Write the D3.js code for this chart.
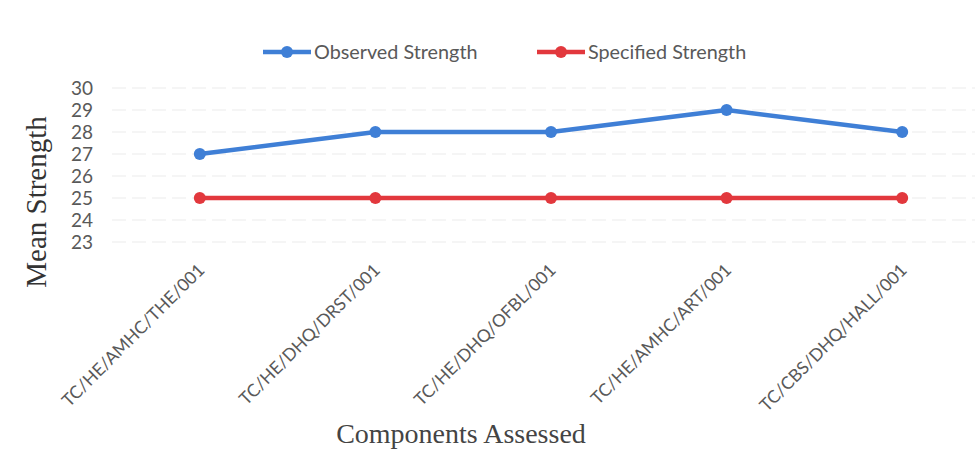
<!DOCTYPE html>
<html>
<head>
<meta charset="utf-8">
<script src="https://cdn.jsdelivr.net/npm/d3@7"></script>
<style>
  html, body { margin: 0; padding: 0; background: #fff; }
  svg { display: block; }
</style>
</head>
<body>
<svg id="chart" width="979" height="471"></svg>
<script>
// Components tested and their mean strengths
const components = [
  "TC/HE/AMHC/THE/001",
  "TC/HE/DHQ/DRST/001",
  "TC/HE/DHQ/OFBL/001",
  "TC/HE/AMHC/ART/001",
  "TC/CBS/DHQ/HALL/001"
];
const observedStrength = [27, 28, 28, 29, 28];
const specifiedStrength = [25, 25, 25, 25, 25];
const yTicks = [23, 24, 25, 26, 27, 28, 29, 30];
const seriesNames = ["Observed Strength", "Specified Strength"];
const seriesColors = ["#3f7fd6", "#e2383d"];

const svg = d3.select("#chart");
const labelFont = "Lato, 'Open Sans', sans-serif";
const serif = "'Liberation Serif', 'DejaVu Serif', serif";

const x = d3.scalePoint().domain(components).range([112, 990]).padding(0.5);
const y = d3.scaleLinear().domain([23, 30]).range([242, 88]);

// light gridlines
svg.append("g")
  .selectAll("line")
  .data(yTicks)
  .join("line")
  .attr("x1", 112).attr("x2", 975)
  .attr("y1", d => y(d)).attr("y2", d => y(d))
  .attr("stroke", "#ebebeb")
  .attr("stroke-width", 1)
  .attr("stroke-dasharray", "14,6");

// y axis labels
const yAxis = svg.append("g")
  .attr("transform", "translate(100,0)")
  .call(d3.axisLeft(y).tickValues(yTicks).tickFormat(d3.format("d")).tickSize(0).tickPadding(7));
yAxis.select(".domain").remove();
yAxis.selectAll("text")
  .attr("font-family", labelFont)
  .attr("font-size", 19)
  .attr("fill", "#595959");

// x axis labels, rotated
const xAxis = svg.append("g")
  .attr("transform", "translate(0,267)")
  .call(d3.axisBottom(x).tickSize(0).tickPadding(0));
xAxis.select(".domain").remove();
xAxis.selectAll("text")
  .attr("font-family", labelFont)
  .attr("font-size", 17.5)
  .attr("fill", "#595959")
  .attr("text-anchor", "end")
  .attr("dy", "0.35em")
  .attr("transform", "translate(1,0) rotate(-45)");

// series
const series = [observedStrength, specifiedStrength];
const line = d3.line().x((d, i) => x(components[i])).y(d => y(d));
series.forEach((vals, s) => {
  const g = svg.append("g");
  g.append("path")
    .datum(vals)
    .attr("d", line)
    .attr("fill", "none")
    .attr("stroke", seriesColors[s])
    .attr("stroke-width", 4.5)
    .attr("stroke-linejoin", "round");
  g.selectAll("circle")
    .data(vals)
    .join("circle")
    .attr("cx", (d, i) => x(components[i]))
    .attr("cy", d => y(d))
    .attr("r", 6)
    .attr("fill", seriesColors[s]);
});

// legend
const legendX = [263, 537];
seriesNames.forEach((name, s) => {
  const g = svg.append("g").attr("transform", `translate(${legendX[s]},52)`);
  g.append("line").attr("x1", 0).attr("x2", 48).attr("y1", 0).attr("y2", 0)
    .attr("stroke", seriesColors[s]).attr("stroke-width", 4.5);
  g.append("circle").attr("cx", 24).attr("cy", 0).attr("r", 6).attr("fill", seriesColors[s]);
  g.append("text").attr("x", 51).attr("y", 0).attr("dy", "0.35em")
    .attr("font-family", labelFont).attr("font-size", 19.8).attr("fill", "#595959")
    .text(name);
});

// axis titles
svg.append("text")
  .attr("transform", "translate(46,202) rotate(-90)")
  .attr("text-anchor", "middle")
  .attr("font-family", serif)
  .attr("font-size", 29)
  .attr("fill", "#333")
  .text("Mean Strength");

svg.append("text")
  .attr("x", 461).attr("y", 443)
  .attr("text-anchor", "middle")
  .attr("font-family", serif)
  .attr("font-size", 28)
  .attr("fill", "#444")
  .text("Components Assessed");
</script>
</body>
</html>
